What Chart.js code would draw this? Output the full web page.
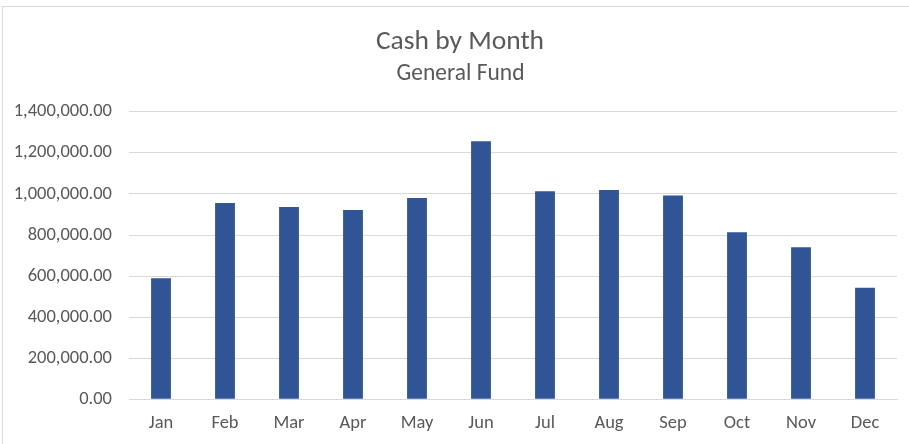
<!DOCTYPE html>
<html>
<head>
<meta charset="utf-8">
<script src="https://cdn.jsdelivr.net/npm/chart.js@4/dist/chart.umd.min.js"></script>
<style>
  html, body { margin: 0; padding: 0; background: #ffffff; }
  #wrap { position: relative; width: 909px; height: 444px; overflow: hidden; }
  #frame { position: absolute; left: 2px; top: 6px; width: 920px; height: 460px;
           border-top: 1px solid #d9d9d9; border-left: 1px solid #d9d9d9; box-sizing: border-box; }
  canvas { position: absolute; left: 0; top: 0; }
</style>
</head>
<body>
<div id="wrap">
  <div id="frame"></div>
  <canvas id="c" width="909" height="444"></canvas>
</div>
<script>
const months = ["Jan","Feb","Mar","Apr","May","Jun","Jul","Aug","Sep","Oct","Nov","Dec"];
const cashValues = [590000, 956000, 937000, 922000, 980000, 1257000, 1013000, 1019000, 993000, 813000, 741000, 543000];
const titleText = "Cash by Month";
const subtitleText = "General Fund";
const yMin = 0, yMax = 1400000, yStep = 200000;

const fontFamily = "Carlito, Calibri, 'Open Sans', 'Liberation Sans', sans-serif";
const textColor = "#595959";

const titlesPlugin = {
  id: "titles",
  afterDraw(chart) {
    const ctx = chart.ctx;
    ctx.save();
    ctx.fillStyle = textColor;
    ctx.textAlign = "center";
    ctx.textBaseline = "alphabetic";
    ctx.font = "27.5px " + fontFamily;
    ctx.fillText(titleText, 460, 49);
    ctx.font = "23.5px " + fontFamily;
    ctx.fillText(subtitleText, 460.5, 80);
    ctx.restore();
  }
};

new Chart(document.getElementById("c"), {
  type: "bar",
  data: {
    labels: months,
    datasets: [{
      label: "Cash",
      data: cashValues,
      backgroundColor: "#2F5597",
      borderWidth: 0,
      barPercentage: 0.31,
      categoryPercentage: 1.0
    }]
  },
  plugins: [titlesPlugin],
  options: {
    responsive: false,
    animation: false,
    layout: { padding: { left: 0, right: 12, top: 111.8, bottom: 0 } },
    plugins: {
      legend: { display: false },
      tooltip: { enabled: false },
      title: { display: false },
      subtitle: { display: false }
    },
    scales: {
      x: {
        afterFit: (scale) => { scale.height = 44.7; },
        grid: { display: false, drawTicks: false },
        border: { display: true, color: "#d9d9d9", width: 1 },
        ticks: { color: textColor, font: { family: fontFamily, size: 18.5 }, padding: 13, maxRotation: 0 }
      },
      y: {
        min: yMin, max: yMax,
        afterFit: (scale) => { scale.width = 129; },
        grid: { color: "#d9d9d9", drawTicks: false },
        border: { display: false },
        ticks: {
          stepSize: yStep,
          color: textColor,
          font: { family: fontFamily, size: 18.5 },
          padding: 17,
          callback: (v) => Number(v).toLocaleString("en-US", { minimumFractionDigits: 2, maximumFractionDigits: 2 })
        }
      }
    }
  }
});
</script>
</body>
</html>
